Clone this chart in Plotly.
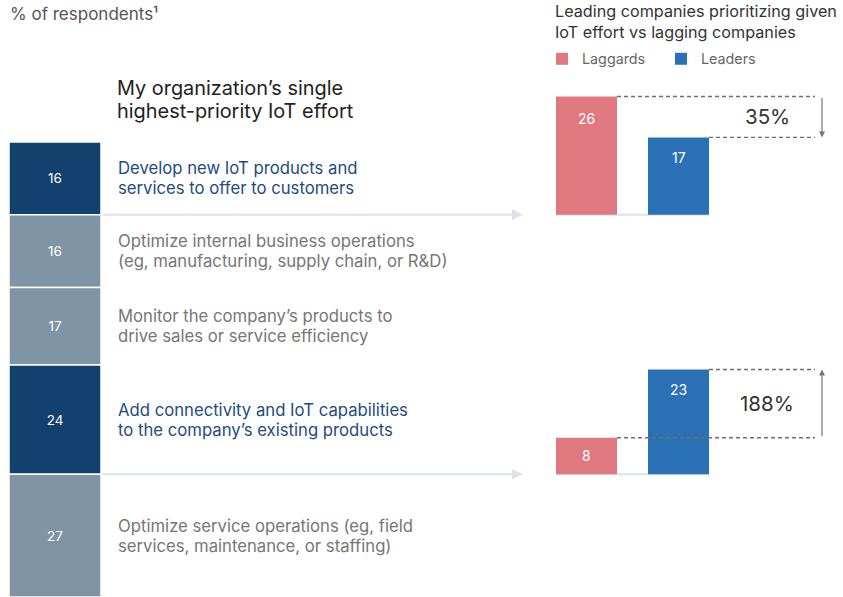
import plotly.graph_objects as go

# ---- data ----
efforts = [
    ("Develop new IoT products and", "services to offer to customers"),
    ("Optimize internal business operations", "(eg, manufacturing, supply chain, or R&D)"),
    ("Monitor the company’s products to", "drive sales or service efficiency"),
    ("Add connectivity and IoT capabilities", "to the company’s existing products"),
    ("Optimize service operations (eg, field", "services, maintenance, or staffing)"),
]
share = [16, 16, 17, 24, 27]
highlighted = [True, False, False, True, False]

# leaders vs laggards for the two highlighted efforts (top, bottom)
laggards = [26, 8]
leaders = [17, 23]
change_labels = ["35%", "188%"]

left_title = ("My organization’s single", "highest-priority IoT effort")
right_title = ("Leading companies prioritizing given", "IoT effort vs lagging companies")

# ---- canvas geometry (pixels) ----
W, H = 843, 597
PX_PER_UNIT = 4.55          # vertical pixels per percentage point
FONT = "Inter, Liberation Sans, Arial, sans-serif"

NAVY = "#12406f"
SLATE = "#7f95a5"
PINK = "#e07880"
BLUE = "#2b71b6"
TXT_BLUE = "#1e4b80"
TXT_GRAY = "#767676"
RULE = "#dde3ea"


def py(px):
    """pixel row -> y data value"""
    return (H - px) / PX_PER_UNIT


def text_lines(x, y_center, lines, gap, size, color):
    """stack lines of left-aligned text around a vertical centre (data units)"""
    out = []
    k = len(lines)
    for j, line in enumerate(lines):
        off = (j - (k - 1) / 2) * gap / PX_PER_UNIT
        out.append(dict(x=x, y=y_center - off, xref="x", yref="y", text=line,
                        showarrow=False, xanchor="left", yanchor="middle", align="left",
                        font=dict(size=size, color=color, family=FONT)))
    return out


# stacked column: first effort at the top
n = len(share)
bases = []
acc = sum(share)
for v in share:
    acc -= v
    bases.append(acc)

fig = go.Figure()

fig.add_trace(go.Bar(
    x=[55] * n, y=share, base=bases, width=92,
    marker=dict(color=[NAVY if h else SLATE for h in highlighted],
                line=dict(color="white", width=1.5)),
    text=[str(v) for v in share], textposition="inside",
    insidetextanchor="middle",
    textfont=dict(color="white", size=13.5, family=FONT),
    showlegend=False, hoverinfo="skip",
))

# baselines of the comparison charts sit on the dividers below each highlighted effort
hi_idx = [i for i, h in enumerate(highlighted) if h]
cmp_base = [bases[i] for i in hi_idx]

LAG_X, LEAD_X, BW = 586.5, 678.5, 61

fig.add_trace(go.Bar(
    name="Laggards", x=[LAG_X] * 2, y=laggards, base=cmp_base, width=BW,
    marker=dict(color=PINK, line=dict(width=0)), hoverinfo="skip",
))
fig.add_trace(go.Bar(
    name="Leaders", x=[LEAD_X] * 2, y=leaders, base=cmp_base, width=BW,
    marker=dict(color=BLUE, line=dict(width=0)), hoverinfo="skip",
))

shapes = []
ann = []

# effort labels
for i, (lab, v) in enumerate(zip(efforts, share)):
    ann += text_lines(116, bases[i] + v / 2, lab, 20, 16.7,
                      TXT_BLUE if highlighted[i] else TXT_GRAY)

for k, b in enumerate(cmp_base):
    lag, lead = laggards[k], leaders[k]
    # connector rule with arrow from the column to the comparison chart
    ann.append(dict(
        x=523, y=b, ax=101, ay=b, xref="x", yref="y", axref="x", ayref="y",
        text="", showarrow=True, arrowhead=2, arrowsize=1.1, arrowwidth=2,
        arrowcolor=RULE,
    ))
    # baseline under the bars
    shapes.append(dict(type="line", xref="x", yref="y", x0=LAG_X - BW / 2, x1=LEAD_X + BW / 2,
                       y0=b, y1=b, line=dict(color=RULE, width=2), layer="below"))
    # dashed reference lines
    shapes.append(dict(type="line", xref="x", yref="y", x0=LAG_X + BW / 2, x1=815,
                       y0=b + lag, y1=b + lag, line=dict(color="#6e6e6e", width=1.3, dash="4px,3px"),
                       layer="above"))
    shapes.append(dict(type="line", xref="x", yref="y", x0=LEAD_X + BW / 2, x1=815,
                       y0=b + lead, y1=b + lead, line=dict(color="#6e6e6e", width=1.3, dash="4px,3px"),
                       layer="above"))
    # change arrow
    ann.append(dict(
        x=822, y=b + lead, ax=822, ay=b + lag, xref="x", yref="y", axref="x", ayref="y",
        text="", showarrow=True, arrowhead=2, arrowsize=1, arrowwidth=1.2,
        arrowcolor="#777777",
    ))
    ann.append(dict(
        x=767, y=(b + lag + b + lead) / 2, xref="x", yref="y", text=change_labels[k],
        showarrow=False, xanchor="center", yanchor="middle",
        font=dict(size=20.5, color="#333333", family=FONT),
    ))
    # value labels
    lag_y = b + lag / 2 if lag < 12 else b + lag - 22 / PX_PER_UNIT
    lead_y = b + lead / 2 if lead < 12 else b + lead - 20 / PX_PER_UNIT
    ann.append(dict(x=LAG_X, y=lag_y, xref="x", yref="y", text=str(lag), showarrow=False,
                    font=dict(size=14, color="white", family=FONT)))
    ann.append(dict(x=LEAD_X, y=lead_y, xref="x", yref="y", text=str(lead), showarrow=False,
                    font=dict(size=14, color="white", family=FONT)))

# headings
ann.append(dict(x=8, y=py(2), xref="x", yref="y", text="% of respondents¹", showarrow=False,
                xanchor="left", yanchor="top", font=dict(size=17, color="#555555", family=FONT)))
ann += text_lines(115, py(99.5), left_title, 23, 19.9, "#222222")
ann.append(dict(x=553, y=py(21), xref="x", yref="y", text="<br>".join(right_title),
                showarrow=False, xanchor="left", yanchor="middle", align="left",
                font=dict(size=16.2, color="#333333", family=FONT)))

fig.update_layout(
    width=W, height=H, margin=dict(l=0, r=0, t=0, b=0, autoexpand=False),
    paper_bgcolor="white", plot_bgcolor="white",
    barmode="overlay", font=dict(family=FONT),
    xaxis=dict(range=[0, W], visible=False, fixedrange=True),
    yaxis=dict(range=[0, H / PX_PER_UNIT], visible=False, fixedrange=True),
    shapes=shapes, annotations=ann,
    showlegend=True,
    legend=dict(orientation="h", x=(556 - 14) / W, y=1 - 43 / H, xanchor="left", yanchor="top",
                entrywidth=74, entrywidthmode="pixels", bgcolor="rgba(0,0,0,0)",
                font=dict(size=14.3, color="#666666", family=FONT), traceorder="normal",
                borderwidth=0),
)

fig.write_html("out.html")
